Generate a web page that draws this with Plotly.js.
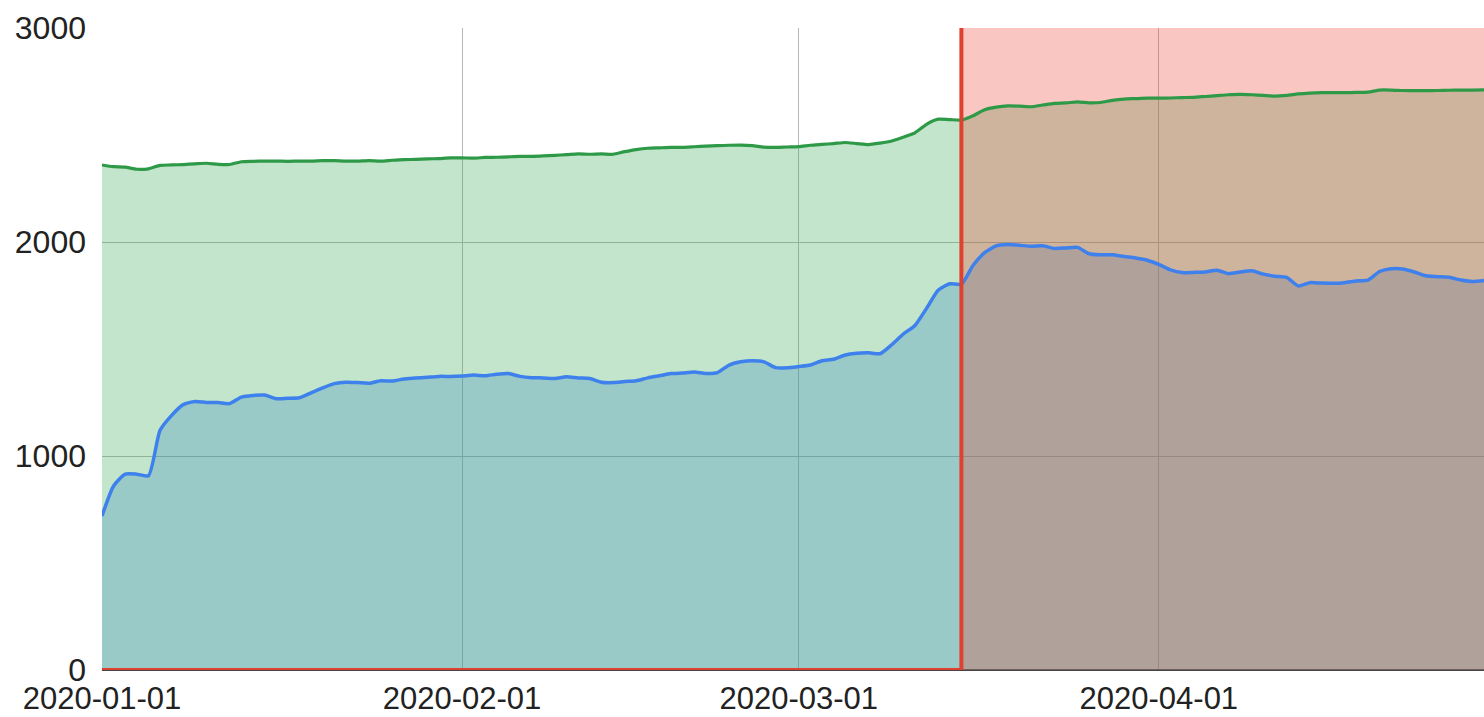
<!DOCTYPE html>
<html>
<head>
<meta charset="utf-8">
<script src="https://cdn.plot.ly/plotly-3.0.1.min.js"></script>
<style>html,body{margin:0;padding:0;background:#fff;}#chart{width:1484px;height:717px;}</style>
</head>
<body>
<div id="chart"></div>
<script>
// Daily series, 2020-01-01 .. 2020-04-29
const startDate = '2020-01-01';
const blueValues = [
  720, 860, 915, 915, 908, 1120, 1190, 1240, 1255, 1250,
  1250, 1245, 1275, 1283, 1285, 1268, 1270, 1272, 1295, 1318,
  1338, 1345, 1343, 1340, 1352, 1350, 1360, 1364, 1368, 1372,
  1372, 1374, 1378, 1375, 1382, 1385, 1372, 1366, 1365, 1362,
  1370, 1365, 1362, 1345, 1343, 1348, 1352, 1365, 1375, 1385,
  1388, 1392, 1386, 1390, 1425, 1440, 1445, 1440, 1413, 1412,
  1418, 1425, 1445, 1452, 1472, 1480, 1482, 1478, 1520, 1570,
  1610, 1690, 1775, 1805, 1803, 1890, 1950, 1982, 1988, 1985,
  1980, 1982, 1970, 1972, 1975, 1945, 1940, 1940, 1932, 1925,
  1915, 1895, 1870, 1857, 1858, 1860, 1868, 1852, 1860, 1866,
  1850, 1840, 1835, 1795, 1810, 1808, 1807, 1810, 1818, 1822,
  1862, 1875, 1874, 1860, 1842, 1838, 1835, 1822, 1815, 1820
];
const greenValues = [
  2360, 2352, 2350, 2340, 2342, 2358, 2360, 2362, 2365, 2368,
  2363, 2362, 2375, 2377, 2378, 2378, 2377, 2378, 2378, 2380,
  2380, 2378, 2378, 2380, 2378, 2382, 2385, 2386, 2388, 2390,
  2393, 2393, 2392, 2395, 2396, 2398, 2400, 2400, 2402, 2405,
  2408, 2412, 2410, 2412, 2410, 2422, 2432, 2438, 2440, 2442,
  2442, 2445, 2448, 2450, 2452, 2453, 2450, 2443, 2442, 2444,
  2446, 2452, 2456, 2460, 2465, 2460, 2455, 2462, 2472, 2490,
  2510, 2550, 2574, 2572, 2570, 2590, 2618, 2630, 2636, 2635,
  2632, 2640, 2648, 2650, 2655, 2650, 2652, 2662, 2668, 2670,
  2672, 2672, 2673, 2675, 2676, 2680, 2684, 2688, 2690, 2688,
  2685, 2682, 2685, 2692, 2696, 2698, 2698, 2698, 2699, 2700,
  2710, 2710, 2708, 2707, 2707, 2708, 2709, 2710, 2710, 2711
];
// Highlighted period (step): 0 before, 3000 from 2020-03-15
const markerDates = ['2020-01-01', '2020-03-15', '2020-03-15', '2020-04-29'];
const markerValues = [0, 0, 3000, 3000];
const xTickVals = ['2020-01-01', '2020-02-01', '2020-03-01', '2020-04-01'];
const yTickVals = [0, 1000, 2000, 3000];

function dates(n) {
  const out = [];
  const d0 = new Date(startDate + 'T00:00:00Z');
  for (let i = 0; i < n; i++) {
    const d = new Date(d0.getTime() + i * 86400000);
    out.push(d.toISOString().slice(0, 10));
  }
  return out;
}
const xDates = dates(blueValues.length);

const traces = [
  {x: xDates, y: greenValues, type: 'scatter', mode: 'lines', fill: 'tozeroy',
   fillcolor: 'rgba(52,168,83,0.3)', line: {width: 0}, hoverinfo: 'skip'},
  {x: xDates, y: blueValues, type: 'scatter', mode: 'lines', fill: 'tozeroy',
   fillcolor: 'rgba(60,140,196,0.3)', line: {width: 0}, hoverinfo: 'skip'},
  {x: markerDates, y: markerValues, type: 'scatter', mode: 'lines', fill: 'tozeroy',
   fillcolor: 'rgba(234,67,53,0.3)', line: {width: 0}, hoverinfo: 'skip'},
  {x: xDates, y: greenValues, type: 'scatter', mode: 'lines', line: {width: 3.2, color: '#2E9A48', shape: 'spline', smoothing: 0.6}},
  {x: xDates, y: blueValues, type: 'scatter', mode: 'lines', line: {width: 3.5, color: '#3E80EC', shape: 'spline', smoothing: 0.6}},
  {x: markerDates.slice(0, 3), y: markerValues.slice(0, 3), type: 'scatter', mode: 'lines', line: {width: 4, color: '#E0412F'}}
];

const layout = {
  width: 1484, height: 717,
  margin: {l: 102, r: 0, t: 28, b: 47},
  showlegend: false,
  paper_bgcolor: '#fff', plot_bgcolor: '#fff',
  font: {family: '"Liberation Sans", Arial, sans-serif', size: 32, color: '#222'},
  xaxis: {
    type: 'date', range: ['2020-01-01', '2020-04-29'],
    tickvals: xTickVals, ticktext: xTickVals,
    showgrid: true, gridcolor: '#b8b8b8', gridwidth: 1,
    zeroline: false, showline: false,
    ticks: '', ticklabelstandoff: 7,
    tickfont: {size: 31, color: '#222'}
  },
  yaxis: {
    range: [0, 3000], tickvals: yTickVals,
    showgrid: true, gridcolor: '#b8b8b8', gridwidth: 1,
    zeroline: true, zerolinecolor: '#444', zerolinewidth: 1.5,
    showline: false, ticks: '', ticklabelstandoff: 15,
    tickfont: {size: 32, color: '#222'}
  }
};

Plotly.newPlot('chart', traces, layout, {displayModeBar: false, staticPlot: true});
</script>
</body>
</html>
